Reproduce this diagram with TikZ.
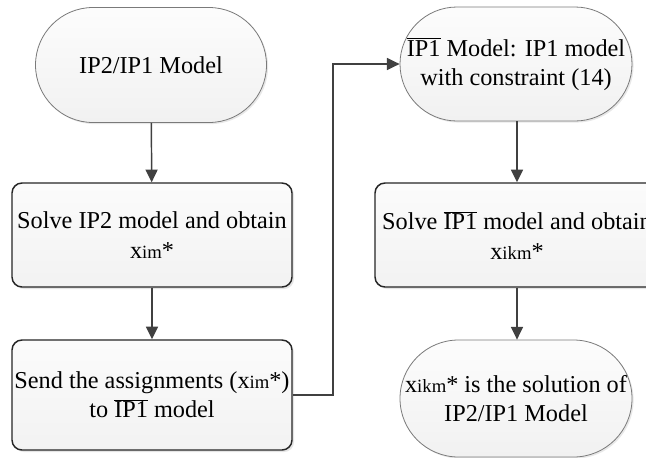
\documentclass[tikz,border=0pt]{standalone}
\usepackage{fontspec}
\setmainfont{Liberation Serif}
\usetikzlibrary{shapes.misc,arrows.meta,shadows}
\definecolor{arrcol}{HTML}{404040}
\definecolor{boxline}{HTML}{262626}
\definecolor{stadline}{HTML}{7A7A7A}
\newcommand{\ipbar}{$\overline{\mbox{IP1}}$}
\newcommand{\smallsub}[1]{{\fontsize{14pt}{14pt}\selectfont #1}}
\begin{document}
\begin{tikzpicture}[x=0.75pt,y=-0.75pt,
  every node/.style={font=\fontsize{18.2pt}{22pt}\selectfont, align=center, inner sep=0pt},
  stad/.style={rounded rectangle, draw=stadline, line width=0.6pt,
    top color=gray!2, bottom color=gray!11,
    drop shadow={shadow xshift=1.2pt, shadow yshift=-1.2pt, opacity=0.18}},
  procbox/.style={rectangle, rounded corners=7.5pt, draw=boxline, line width=1.1pt,
    top color=gray!3, bottom color=gray!10,
    drop shadow={shadow xshift=1.5pt, shadow yshift=-1.5pt, opacity=0.2}},
  arr/.style={draw=arrcol, line width=1.1pt, -{Triangle[length=9.5pt,width=9pt]}}]
\useasboundingbox (0,0) rectangle (646,457);
\clip (0,0) rectangle (646,457);
\fill[white] (0,0) rectangle (646,457);

\node[stad, minimum width=231*0.75pt, minimum height=115*0.75pt] (s1) at (151,65) {IP2/IP1 Model};
\node[procbox, minimum width=280*0.75pt, minimum height=104*0.75pt] (b2) at (152,235)
  {Solve IP2 model and obtain\\x\smallsub{im}*};
\node[procbox, minimum width=280*0.75pt, minimum height=110*0.75pt] (b3) at (152,395)
  {Send the assignments (x\smallsub{im}*)\\to \ipbar{} model};

\node[stad, minimum width=232*0.75pt, minimum height=114*0.75pt] (s2) at (516,64)
  {\ipbar{} Model: IP1 model\\with constraint (14)};
\node[procbox, minimum width=284*0.75pt, minimum height=104*0.75pt] (b4) at (517,235)
  {Solve \ipbar{} model and obtain\\x\smallsub{ikm}*};
\node[stad, minimum width=232*0.75pt, minimum height=117*0.75pt] (s3) at (516,398.5)
  {x\smallsub{ikm}* is the solution of\\IP2/IP1 Model};

\coordinate (c1) at (333,0);
\draw[arr] (s1) -- (b2);
\draw[arr] (b2) -- (b3);
\draw[arr] (b3.east) -- (b3.east -| c1) |- (s2.west);
\draw[arr] (s2.south -| b4.north) -- (b4.north);
\draw[arr] (b4.south) -- (b4.south |- s3.north);
\end{tikzpicture}
\end{document}
